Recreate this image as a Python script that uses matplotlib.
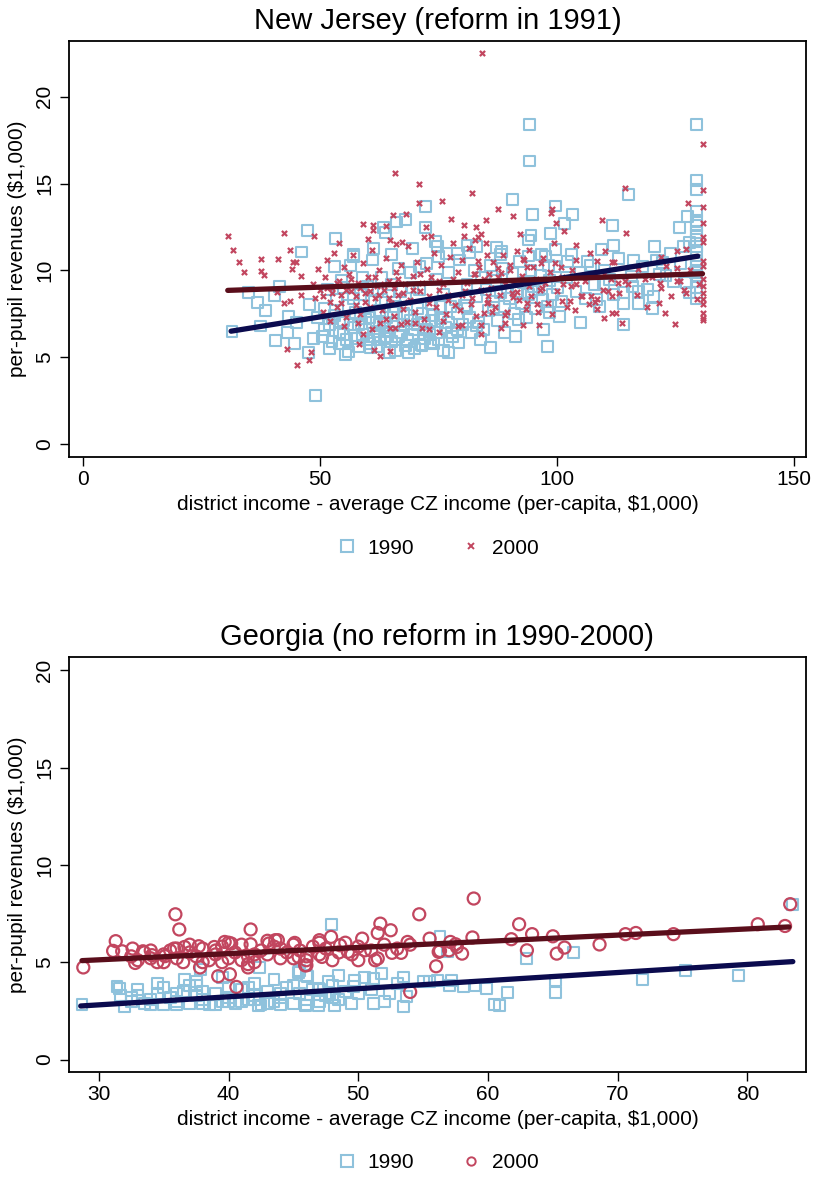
import numpy as np
import matplotlib
matplotlib.use("Agg")
import matplotlib.pyplot as plt
from matplotlib.lines import Line2D

plt.rcParams['font.family'] = ['Liberation Sans', 'DejaVu Sans']

# --- New Jersey, 1990 (x = income, y = revenues)
nj_1990 = np.array([
    (31.4, 6.5), (34.9, 8.75), (36.8, 8.17), (38.5, 7.7), (41.5, 9.1), (40.3, 8.55), (37.5, 6.8),
    (40.6, 5.96), (43.3, 7.36), (44.6, 5.77), (47.5, 5.28), (49.0, 2.79), (47.8, 8.04), (45.0, 6.98),
    (43.1, 6.4), (47.3, 12.3), (53.3, 11.85), (46.1, 11.06), (48.5, 6.1), (49.5, 7.3),
    (72.3, 13.7), (68.0, 12.94), (66.1, 12.79), (63.4, 12.46), (63.8, 12.17), (72.2, 12.46),
    (74.3, 11.69), (69.4, 11.25), (57.1, 10.92), (61.2, 11.25), (76.6, 10.98), (81.0, 11.44),
    (74.7, 11.37), (68.7, 5.28), (64.7, 5.25), (60.6, 5.54), (55.4, 5.15), (73.3, 5.83), (77.1, 5.28),
    (77.8, 6.4), (79.2, 5.83), (71.2, 5.73),
    (94.1, 18.4), (94.1, 16.3), (90.5, 14.1), (94.8, 13.23), (99.7, 13.71), (103.2, 13.23),
    (101.5, 12.71), (98.7, 12.13), (94.5, 12.02), (94.0, 11.75), (87.3, 11.3), (88.2, 11.11),
    (99.6, 11.2), (102.2, 10.54), (106.5, 10.54), (98.2, 10.29), (94.0, 10.83), (96.8, 10.92),
    (81.5, 11.02), (98.0, 5.6), (105.0, 6.98), (100.6, 7.36), (98.5, 7.56), (85.9, 5.54), (83.8, 6.02),
    (91.2, 6.21), (97.1, 6.6), (91.9, 7.17), (89.0, 6.4), (86.6, 7.85), (94.7, 8.81),
    (129.5, 18.42), (129.4, 15.19), (129.4, 14.67), (129.4, 13.42), (127.6, 13.13), (125.9, 12.46),
    (129.4, 12.56), (129.4, 11.79), (126.6, 11.4), (129.4, 11.02), (129.4, 10.25), (129.4, 9.38),
    (129.4, 8.71), (129.3, 9.87), (115.0, 14.39), (111.7, 12.56), (112.0, 11.44), (120.5, 11.37),
    (109.4, 11.21), (116.1, 10.6), (122.3, 10.44), (124.5, 9.38), (121.7, 9.77), (115.7, 9.67),
    (117.1, 8.81), (117.1, 8.1), (120.4, 8.52), (120.1, 7.79), (114.0, 8.71), (114.0, 8.1),
    (114.0, 6.88), (127.3, 9.29), (128.0, 8.75), (109.8, 9.19), (108.4, 8.33),
    (50.5, 6.2), (51, 7.8), (51.5, 8.9), (52, 6.9), (52.5, 5.9), (53, 7.4), (53.5, 8.3), (54, 6.4),
    (54.5, 9.4), (55, 7.1), (55.5, 6.0), (56, 8.0), (56.5, 10.3), (57, 6.7), (57.5, 7.6), (58, 5.6),
    (58.5, 8.6), (59, 6.3), (59.5, 7.2), (60, 9.1), (60.5, 5.8), (61, 7.0), (61.5, 8.2), (62, 6.5),
    (62.5, 7.7), (63, 9.6), (63.5, 6.1), (64, 7.3), (64.5, 8.8), (65, 5.9), (65.5, 6.8), (66, 7.9),
    (66.5, 10.1), (67, 6.4), (67.5, 7.5), (68, 8.4), (68.5, 6.0), (69, 7.1), (69.5, 9.0), (70, 6.6),
    (70.5, 7.8), (71, 8.9), (71.5, 5.7), (72, 7.0), (72.5, 10.4), (73, 6.3), (73.5, 8.1), (74, 7.4),
    (74.5, 9.5), (75, 6.0), (75.5, 7.2), (76, 8.6), (76.5, 6.7), (77, 9.9), (77.5, 7.9), (78, 6.2),
    (78.5, 8.3), (79, 7.5), (79.5, 10.6), (80, 6.9), (80.5, 8.0), (81, 9.2), (81.5, 7.3), (82, 6.4),
    (82.5, 10.0), (83, 8.5), (83.5, 7.0), (84, 9.6), (84.5, 6.6), (85, 8.9), (85.5, 7.7), (86, 10.3),
    (86.5, 8.2), (87, 9.4), (87.5, 7.1), (88, 8.7), (88.5, 10.1), (89, 7.9), (89.5, 9.0), (90, 8.4),
    (90.5, 9.8), (91, 7.5), (91.5, 8.8), (92, 10.5), (92.5, 8.1), (93, 9.3), (93.5, 7.3), (94, 8.6),
    (94.5, 10.0), (95, 9.1), (95.5, 7.8), (96, 8.9), (96.5, 9.7), (97, 8.3), (97.5, 10.8), (98, 7.9),
    (98.5, 9.4), (99, 8.6), (99.5, 10.2), (100, 9.0), (101, 8.2), (102, 9.6), (103, 10.9), (104, 8.8),
    (105, 9.9), (106, 8.4), (107, 10.3), (108, 9.2), (109, 7.9), (110, 10.0), (111, 9.5), (112, 8.6),
    (113, 10.7), (116, 9.1), (118, 10.2), (119, 8.9), (121, 10.6), (123, 9.7), (124, 11.0), (126, 10.4),
    (128, 11.6), (129.4, 10.6), (129.4, 11.4), (129.4, 12.0), (129.4, 12.2), (129.4, 9.7),
    (129.4, 9.0), (129.4, 8.4), (129.4, 12.9),
    (52, 5.5), (54, 5.8), (56, 5.3), (58, 6.9), (60, 6.0), (62, 5.6), (64, 6.2), (66, 5.4), (68, 5.7),
    (70, 5.5), (72, 6.1), (74, 5.8), (76, 5.4), (62.5, 6.9), (55, 9.0), (57, 8.4), (59, 9.6), (61, 8.9),
    (63, 8.3), (65, 9.2), (67, 8.8), (69, 9.9), (53, 10.2), (57, 10.8), (61, 10.6), (65, 10.9),
    (71, 10.2), (75, 10.8), (79, 11.0), (83, 11.4), (88, 10.9),
    (51, 6.6), (52.5, 7.2), (54, 7.0), (55, 6.3), (56.5, 6.9), (57.5, 6.1), (58.5, 7.4), (59.5, 6.6),
    (60.5, 7.3), (61.5, 6.2), (62.5, 6.0), (63.5, 7.0), (64.5, 6.5), (65.5, 7.6), (66.5, 6.2),
    (67.5, 6.9), (68.5, 7.4), (69.5, 6.3), (70.5, 6.9), (71.5, 7.5), (72.5, 6.6), (73.5, 7.1),
    (74.5, 6.4), (75.5, 7.9), (77, 7.0), (79, 6.6), (81, 7.8), (83, 6.8),
])

# --- New Jersey, 2000
nj_2000 = np.array([
    (30.6, 11.98), (31.6, 11.15), (32.8, 10.48), (33.9, 9.9), (37.5, 10.67), (37.5, 9.96), (38.2, 9.71),
    (41.2, 10.67), (42.4, 12.13), (43.7, 11.17), (44.3, 10.48), (45.0, 10.48), (44.0, 10.06),
    (48.6, 11.98), (42.4, 8.1), (43.6, 8.23), (43.1, 5.5), (45.2, 4.58), (47.6, 4.86), (48.1, 5.3),
    (40.8, 8.75), (45.9, 9.67), (45.9, 8.6),
    (65.7, 15.6), (70.9, 15.0), (70.9, 13.87), (75.7, 14.0), (77.6, 12.98), (65.4, 13.17), (68.1, 13.23),
    (59.1, 12.65), (61.1, 12.6), (61.1, 12.33), (64.0, 12.56), (72.4, 12.5), (80.3, 12.6), (80.3, 12.0),
    (73.4, 11.98), (64.7, 11.75), (67.3, 11.63), (59.1, 6.36), (58.3, 5.79), (61.3, 5.4), (62.7, 5.06),
    (64.7, 5.34), (64.7, 6.67), (65.7, 6.67), (71.6, 6.67), (75.1, 6.48), (79.9, 6.84), (68.3, 7.02),
    (62.6, 6.98), (84.1, 22.5),
    (82.0, 14.44), (87.6, 13.52), (90.8, 13.13), (99.0, 13.52), (98.7, 13.33), (99.7, 12.75),
    (85.0, 12.9), (82.9, 12.5), (101.5, 12.27), (92.2, 12.08), (83.3, 11.92), (82.6, 11.73),
    (104.1, 11.48), (99.4, 11.6), (94.0, 11.17), (85.2, 10.87), (83.4, 10.54), (92.9, 10.63),
    (93.6, 10.21), (90.1, 10.29), (96.6, 10.4), (100.8, 10.21), (103.1, 10.0), (104.1, 9.19),
    (101.3, 9.19), (105.3, 8.52), (107.2, 8.52), (106.7, 8.04), (103.8, 7.71), (102.7, 8.23),
    (101.0, 8.23), (96.1, 6.83), (92.9, 6.84), (89.1, 6.98), (88.2, 6.69), (84.0, 6.31), (84.0, 6.88),
    (84.5, 7.52), (86.3, 7.6), (89.1, 7.46), (93.6, 8.1), (95.7, 8.04), (90.8, 8.48), (91.5, 8.75),
    (96.8, 9.0), (81.9, 8.04), (85.2, 8.1), (85.5, 8.52), (82.7, 9.77), (85.7, 9.81), (87.5, 10.15),
    (88.2, 9.87),
    (130.7, 17.27), (114.3, 14.77), (130.7, 14.63), (127.7, 13.87), (130.7, 13.68), (130.7, 12.71),
    (130.7, 11.94), (130.7, 11.63), (109.4, 12.9), (114.5, 12.13), (110.1, 11.11), (125.3, 11.11),
    (127.2, 11.25), (108.4, 10.54), (111.5, 10.48), (123.0, 10.25), (125.3, 10.15), (130.7, 10.54),
    (130.7, 10.25), (125.3, 9.38), (118.5, 9.48), (121.8, 9.29), (122.0, 9.0), (130.7, 9.48),
    (130.7, 9.1), (130.0, 9.19), (130.7, 8.71), (126.9, 8.9), (127.3, 8.71), (129.5, 8.37),
    (130.7, 8.33), (130.7, 8.04), (130.7, 7.56), (130.7, 7.27), (130.7, 7.17), (116.8, 8.57),
    (121.5, 8.1), (122.7, 7.56), (125.0, 6.94), (109.9, 7.27), (111.7, 7.56), (112.4, 7.52),
    (113.8, 6.98), (108.4, 7.75), (108.5, 8.37), (109.8, 8.9), (110.8, 8.81), (111.7, 8.52),
    (114.3, 9.38), (112.9, 9.29), (111.3, 9.48),
    (48.5, 9.2), (49, 8.4), (49.5, 10.1), (50, 8.9), (50.5, 7.6), (51, 9.6), (51.5, 10.6), (52, 8.2),
    (52.5, 9.0), (53, 11.0), (53.5, 7.9), (54, 9.4), (54.5, 8.6), (55, 10.2), (55.5, 7.3), (56, 9.8),
    (56.5, 8.8), (57, 10.9), (57.5, 8.0), (58, 9.3), (58.5, 7.5), (59, 10.4), (59.5, 8.7), (60, 9.6),
    (60.5, 7.9), (61, 11.2), (61.5, 8.4), (62, 9.1), (62.5, 10.0), (63, 7.7), (63.5, 8.9), (64, 10.7),
    (64.5, 9.4), (65, 8.1), (65.5, 7.4), (66, 9.9), (66.5, 8.6), (67, 10.3), (67.5, 7.8), (68, 9.2),
    (68.5, 11.4), (69, 8.3), (69.5, 9.7), (70, 7.6), (70.5, 10.5), (71, 8.8), (71.5, 9.3), (72, 7.2),
    (72.5, 10.1), (73, 8.5), (73.5, 9.6), (74, 11.0), (74.5, 7.9), (75, 8.9), (75.5, 10.3), (76, 9.2),
    (76.5, 7.5), (77, 8.6), (77.5, 10.8), (78, 9.5), (78.5, 8.0), (79, 9.9), (79.5, 7.7), (80, 10.6),
    (80.5, 8.8), (81, 9.3), (81.5, 11.3), (82, 8.4), (82.5, 9.8), (83, 7.4), (83.5, 10.2), (84, 8.9),
    (84.5, 9.5), (85, 11.6), (85.5, 8.2), (86, 9.0), (86.5, 10.5), (87, 7.9), (87.5, 9.6), (88, 8.6),
    (88.5, 10.9), (89, 9.2), (89.5, 7.6), (90, 10.0), (90.5, 8.7), (91, 9.4), (91.5, 11.1), (92, 8.3),
    (92.5, 9.7), (93, 10.6), (93.5, 7.8), (94, 9.1), (94.5, 8.5), (95, 10.2), (95.5, 9.5), (96, 7.6),
    (96.5, 8.9), (97, 10.7), (97.5, 9.3), (98, 8.1), (98.5, 9.9), (99, 7.5), (99.5, 10.4), (100, 8.8),
    (101, 9.6), (102, 7.9), (103, 9.1), (104, 10.6), (105, 8.5), (106, 9.4), (107, 11.0), (108, 8.2),
    (110, 9.8), (112, 10.5), (113, 8.7), (115, 9.2), (117, 10.1), (119, 7.9), (120, 9.6), (122, 10.8),
    (124, 8.5), (126, 9.4), (128, 10.0),
    (52, 7.1), (55, 6.8), (58, 7.0), (61, 6.6), (64, 7.2), (67, 6.9), (70, 7.0), (73, 6.6), (76, 7.1),
    (79, 6.8), (54, 11.6), (60, 11.8), (66, 11.5), (72, 11.9), (78, 11.6), (84, 12.1),
    (50.5, 8.5), (51.5, 9.0), (52.5, 8.7), (53.5, 9.3), (54.5, 8.1), (55.5, 8.9), (56.5, 9.5),
    (57.5, 8.5), (58.5, 9.0), (59.5, 8.2), (60.5, 8.8), (61.5, 9.6), (62.5, 8.6), (63.5, 9.2),
    (64.5, 8.4), (65.5, 9.0), (66.5, 9.5), (67.5, 8.7), (68.5, 8.2), (69.5, 8.9), (71, 9.8), (73, 8.1),
    (75, 9.4), (77, 8.3), (80, 8.6),
])

# --- Georgia, 1990
ga_1990 = np.array([
    (28.7, 2.84), (31.6, 3.65), (31.7, 3.3), (32.0, 2.74), (32.5, 3.18), (31.4, 3.76), (36.6, 4.12),
    (37.8, 4.62), (37.5, 3.82), (41.5, 3.7), (42.4, 4.73), (42.3, 2.79), (47.9, 6.95), (56.3, 6.3),
    (56.9, 5.53), (45.5, 4.55), (46.0, 4.33), (51.8, 4.42), (51.2, 4.16), (53.5, 4.24), (53.5, 2.74),
    (53.7, 3.22), (52.4, 3.39), (51.2, 2.88), (49.7, 4.07), (49.6, 3.73), (47.7, 3.99), (47.8, 3.39),
    (46.9, 3.65), (48.2, 2.79), (46.9, 2.79), (45.9, 2.79), (55.5, 3.99), (56.1, 4.07), (57.2, 4.07),
    (58.1, 3.73), (59.0, 3.82), (83.5, 7.98), (63.0, 5.19), (66.6, 5.48), (65.2, 4.07), (65.2, 3.42),
    (61.5, 3.42), (60.5, 2.84), (60.9, 2.79), (59.9, 3.65), (71.9, 4.11), (75.2, 4.55), (79.3, 4.33),
    (45.4, 4.45), (46.1, 4.28),
    (32.5, 3.0), (33, 3.3), (33.5, 2.9), (34, 3.1), (34.5, 3.4), (35, 2.8), (35.5, 3.2), (36, 3.0),
    (36.5, 3.5), (37, 2.9), (37.5, 3.3), (38, 3.1), (38.5, 2.8), (39, 3.4), (39.5, 3.0), (40, 3.2),
    (40.5, 2.9), (41, 3.6), (41.5, 3.1), (42, 3.3), (42.5, 2.8), (43, 3.5), (43.5, 3.0), (44, 3.2),
    (44.5, 3.7), (45, 2.9), (45.5, 3.4), (46, 3.1), (46.5, 3.6), (47, 3.0), (47.5, 3.3), (48, 3.8),
    (48.5, 3.1), (49, 3.5), (49.5, 2.9), (50, 3.4), (51, 3.6), (52, 3.0), (53, 3.9),
    (33, 3.6), (34, 2.8), (35, 3.7), (36, 3.4), (37, 3.8), (38, 3.5), (39, 2.8), (40, 3.7), (41, 3.0),
    (42, 3.9), (43, 2.9), (44, 3.4), (45, 3.8), (46, 2.8), (47, 3.6), (48, 3.2), (36, 2.8), (38, 2.9),
    (40, 3.0), (42, 3.1), (44, 2.8), (34.5, 3.9), (37.5, 4.0), (39.5, 4.2), (43.5, 4.1), (48.5, 4.3),
    (50.5, 4.2), (55, 4.0), (57, 3.8),
])

# --- Georgia, 2000
ga_2000 = np.array([
    (28.8, 4.73), (31.3, 6.08), (31.1, 5.58), (31.8, 5.56), (32.6, 5.7), (32.8, 4.96), (33.4, 5.56),
    (34.1, 5.36), (35.1, 5.31), (35.9, 7.46), (36.2, 6.68), (35.8, 5.7), (36.6, 5.78), (37.7, 5.82),
    (37.8, 4.73), (39.2, 4.28), (40.1, 4.38), (40.6, 3.73), (41.7, 6.68), (41.7, 5.92), (41.5, 4.73),
    (39.7, 6.04), (40.2, 5.96), (38.9, 5.78), (43.1, 5.96), (43.6, 6.13),
    (58.9, 8.27), (54.7, 7.46), (51.7, 6.98), (52.5, 6.64), (51.5, 6.5), (50.3, 6.21), (47.9, 6.3),
    (47.0, 6.13), (45.1, 5.99), (43.8, 6.13), (53.8, 6.04), (55.5, 6.21), (57.1, 6.04), (57.6, 5.78),
    (58.8, 6.27), (58.0, 5.44), (56.2, 5.53), (56.0, 4.79), (54.0, 3.47), (53.3, 5.48), (52.6, 5.48),
    (51.5, 5.19), (51.3, 5.1), (50.0, 5.1), (49.2, 5.53), (48.6, 5.87), (47.2, 5.27), (45.9, 4.84),
    (45.4, 5.27), (50.5, 5.61),
    (56.3, 5.58), (57.0, 5.61), (57.5, 5.92), (61.8, 6.18), (62.4, 6.95), (63.0, 5.61), (63.4, 6.44),
    (65.0, 6.33), (65.3, 5.44), (65.9, 5.75), (68.6, 5.91), (70.6, 6.44), (71.4, 6.5), (74.3, 6.44),
    (80.8, 6.95), (82.9, 6.86), (83.3, 7.98), (46.0, 4.84),
    (32.5, 5.3), (33, 5.1), (33.5, 5.5), (34, 5.2), (34.5, 5.0), (35, 5.4), (35.5, 5.6), (36, 5.2),
    (36.5, 5.0), (37, 5.5), (37.5, 5.3), (38, 5.7), (38.5, 5.1), (39, 5.4), (39.5, 5.8), (40, 5.2),
    (40.5, 5.5), (41, 5.9), (41.5, 5.3), (42, 5.0), (42.5, 5.6), (43, 5.4), (43.5, 5.8), (44, 5.2),
    (44.5, 5.5), (45, 5.9), (45.5, 5.6), (46, 5.3), (46.5, 5.8), (47, 5.4), (47.5, 5.7), (48, 5.1),
    (48.5, 5.5), (49, 6.0), (49.5, 5.4), (50, 5.8), (51, 5.6), (52, 5.9), (53, 5.7), (54, 5.9),
    (34, 5.6), (36, 5.7), (38, 5.0), (40, 6.0), (42, 5.4), (44, 5.7), (46, 5.1), (37, 5.9), (39, 5.6),
    (41, 5.1), (43, 6.1), (45, 5.2), (47, 6.0), (35, 5.0), (39.5, 5.0), (41.5, 4.9),
])

# fitted lines (end points)
nj_fit90_x, nj_fit90_y = [31.2, 129.7], [6.5, 10.82]
nj_fit00_x, nj_fit00_y = [30.5, 130.7], [8.85, 9.81]
ga_fit90_x, ga_fit90_y = [28.6, 83.5], [2.75, 5.03]
ga_fit00_x, ga_fit00_y = [28.7, 83.2], [5.08, 6.81]

nj_xticks = [0, 50, 100, 150]
ga_xticks = [30, 40, 50, 60, 70, 80]
yticks = [0, 5, 10, 15, 20]

BLUE = '#8fc2dc'
RED = '#c2465f'
NAVY = '#0b0b4e'
MAROON = '#5a0e1b'

fig = plt.figure(figsize=(8.15, 11.78), dpi=100)
ax1 = fig.add_axes([0.0847, 0.612, 0.904, 0.353])
ax2 = fig.add_axes([0.0847, 0.090, 0.904, 0.352])


def style_axis(ax, title, xticks, xlim, ylim):
    ax.set_xlim(*xlim)
    ax.set_ylim(*ylim)
    ax.set_xticks(xticks)
    ax.set_yticks(yticks)
    ax.set_title(title, fontsize=21, pad=9)
    ax.set_xlabel('district income - average CZ income (per-capita, $1,000)', fontsize=15, labelpad=4)
    ax.set_ylabel('per-pupil revenues ($1,000)', fontsize=15, labelpad=6)
    ax.tick_params(axis='both', direction='out', length=6.5, width=1, labelsize=15, pad=3)
    ax.tick_params(axis='y', pad=4)
    for lbl in ax.get_yticklabels():
        lbl.set_rotation(90)
        lbl.set_va('center')
    for s in ax.spines.values():
        s.set_linewidth(1.3)


# top panel: New Jersey
ax1.scatter(nj_1990[:, 0], nj_1990[:, 1], marker='s', s=62, facecolors='none',
            edgecolors=BLUE, linewidths=1.5, zorder=2)
ax1.scatter(nj_2000[:, 0], nj_2000[:, 1], marker='x', s=14, color=RED, linewidths=1.6, zorder=3)
ax1.plot(nj_fit90_x, nj_fit90_y, color=NAVY, lw=3.8, solid_capstyle='round', zorder=4)
ax1.plot(nj_fit00_x, nj_fit00_y, color=MAROON, lw=3.8, solid_capstyle='round', zorder=4)
style_axis(ax1, 'New Jersey (reform in 1991)', nj_xticks, (-3, 152.5), (-0.75, 23.2))
h1 = [Line2D([], [], marker='s', ls='none', mfc='none', mec=BLUE, mew=1.5, ms=8),
      Line2D([], [], marker='x', ls='none', color=RED, mew=1.4, ms=4)]
ax1.legend(h1, ['1990', '2000'], loc='center', bbox_to_anchor=(0.5, -0.219), ncol=2,
           frameon=False, fontsize=15, handlelength=1.0, handletextpad=0.5, columnspacing=2.2)

# bottom panel: Georgia
ax2.scatter(ga_1990[:, 0], ga_1990[:, 1], marker='s', s=62, facecolors='none',
            edgecolors=BLUE, linewidths=1.5, zorder=2)
ax2.scatter(ga_2000[:, 0], ga_2000[:, 1], marker='o', s=75, facecolors='none',
            edgecolors=RED, linewidths=1.6, zorder=3)
ax2.plot(ga_fit90_x, ga_fit90_y, color=NAVY, lw=3.8, solid_capstyle='round', zorder=4)
ax2.plot(ga_fit00_x, ga_fit00_y, color=MAROON, lw=3.8, solid_capstyle='round', zorder=4)
style_axis(ax2, 'Georgia (no reform in 1990-2000)', ga_xticks, (27.7, 84.5), (-0.64, 20.66))
h2 = [Line2D([], [], marker='s', ls='none', mfc='none', mec=BLUE, mew=1.5, ms=8),
      Line2D([], [], marker='o', ls='none', mfc='none', mec=RED, mew=1.4, ms=6)]
ax2.legend(h2, ['1990', '2000'], loc='center', bbox_to_anchor=(0.5, -0.219), ncol=2,
           frameon=False, fontsize=15, handlelength=1.0, handletextpad=0.5, columnspacing=2.2)

fig.savefig('out.png', dpi=100, facecolor='white')
